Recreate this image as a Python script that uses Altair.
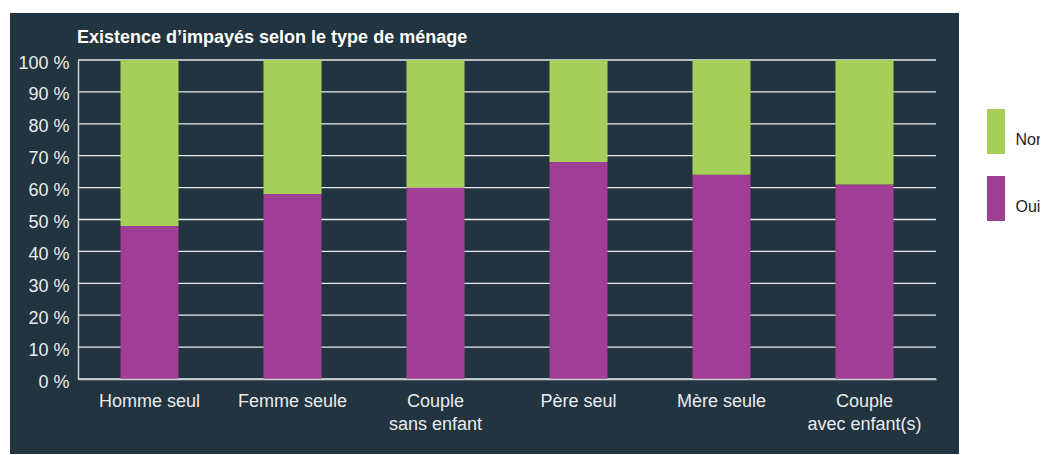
import altair as alt
import pandas as pd

categories = ["Homme seul", "Femme seule", "Couple\nsans enfant", "Père seul", "Mère seule", "Couple\navec enfant(s)"]
oui = [48, 58, 60, 68, 64, 61]
non = [52, 42, 40, 32, 36, 39]
responses = ["Non", "Oui"]
colors = ["#a5cf58", "#a03e95"]
grid_values = [0, 10, 20, 30, 40, 50, 60, 70, 80, 90, 100]

rows = []
for c, o, n in zip(categories, oui, non):
    rows.append({"type": c, "reponse": "Oui", "valeur": o, "rang": 0})
    rows.append({"type": c, "reponse": "Non", "valeur": n, "rang": 1})
df = pd.DataFrame(rows)
grid_df = pd.DataFrame({"valeur": grid_values})

FONT = "Liberation Sans"
PANEL = "#22343f"

y_axis = alt.Axis(
    title=None, values=grid_values, grid=False, ticks=False, domain=True,
    domainColor="#c9ced1", domainWidth=1.5, labelColor="#e9ecee", labelFont=FONT,
    labelFontSize=18, labelPadding=9, labelOffset=3,
    labelExpr="datum.value + ' %'", zindex=1,
)

panel = alt.Chart(pd.DataFrame({"a": [0]})).mark_rect(color=PANEL).encode(
    x=alt.value(-68), x2=alt.value(881), y=alt.value(-47), y2=alt.value(394)
)

grid = alt.Chart(grid_df).mark_rule(color="#e8ebed", strokeWidth=1.3).encode(
    y=alt.Y("valeur:Q", scale=alt.Scale(domain=[0, 100]), axis=y_axis)
)

bars = alt.Chart(df).mark_bar().encode(
    x=alt.X(
        "type:N",
        sort=categories,
        scale=alt.Scale(paddingInner=0.594, paddingOuter=0.297),
        axis=alt.Axis(
            title=None, labelAngle=0, ticks=False, domain=True, domainColor="#c9ced1",
            domainWidth=1.5, labelColor="#e9ecee", labelFont=FONT, labelFontSize=18,
            labelPadding=13, labelLineHeight=23, labelExpr="split(datum.label, '\\n')",
            zindex=1,
        ),
    ),
    y=alt.Y(
        "valeur:Q",
        stack="zero",
        scale=alt.Scale(domain=[0, 100]),
        axis=y_axis,
    ),
    color=alt.Color(
        "reponse:N",
        scale=alt.Scale(domain=responses, range=colors),
        legend=alt.Legend(
            title=None, orient="none", legendX=892.5, legendY=49,
            symbolType="M-0.2667,-1H0.5333V1H-0.2667Z", symbolSize=2025, symbolStrokeWidth=0,
            symbolOpacity=1, labelFont=FONT, labelFontSize=16, labelColor="#1e1e1e",
            labelOffset=0, labelBaseline="top", rowPadding=22, padding=0, offset=0,
        ),
    ),
    order=alt.Order("rang:Q"),
)

chart = alt.layer(panel, grid, bars).properties(
    width=858,
    height=319,
    autosize=alt.AutoSizeParams(type="none"),
    padding={"left": 70, "top": 52, "right": 104, "bottom": 76},
    background="white",
    title=alt.TitleParams(
        "Existence d’impayés selon le type de ménage",
        anchor="start", frame="group", font=FONT, fontSize=18, fontWeight="bold",
        color="white", offset=-34, dx=-1,
    ),
).configure_view(stroke=None)

chart.save("out.html", embed_options={"renderer": "svg", "actions": False})
